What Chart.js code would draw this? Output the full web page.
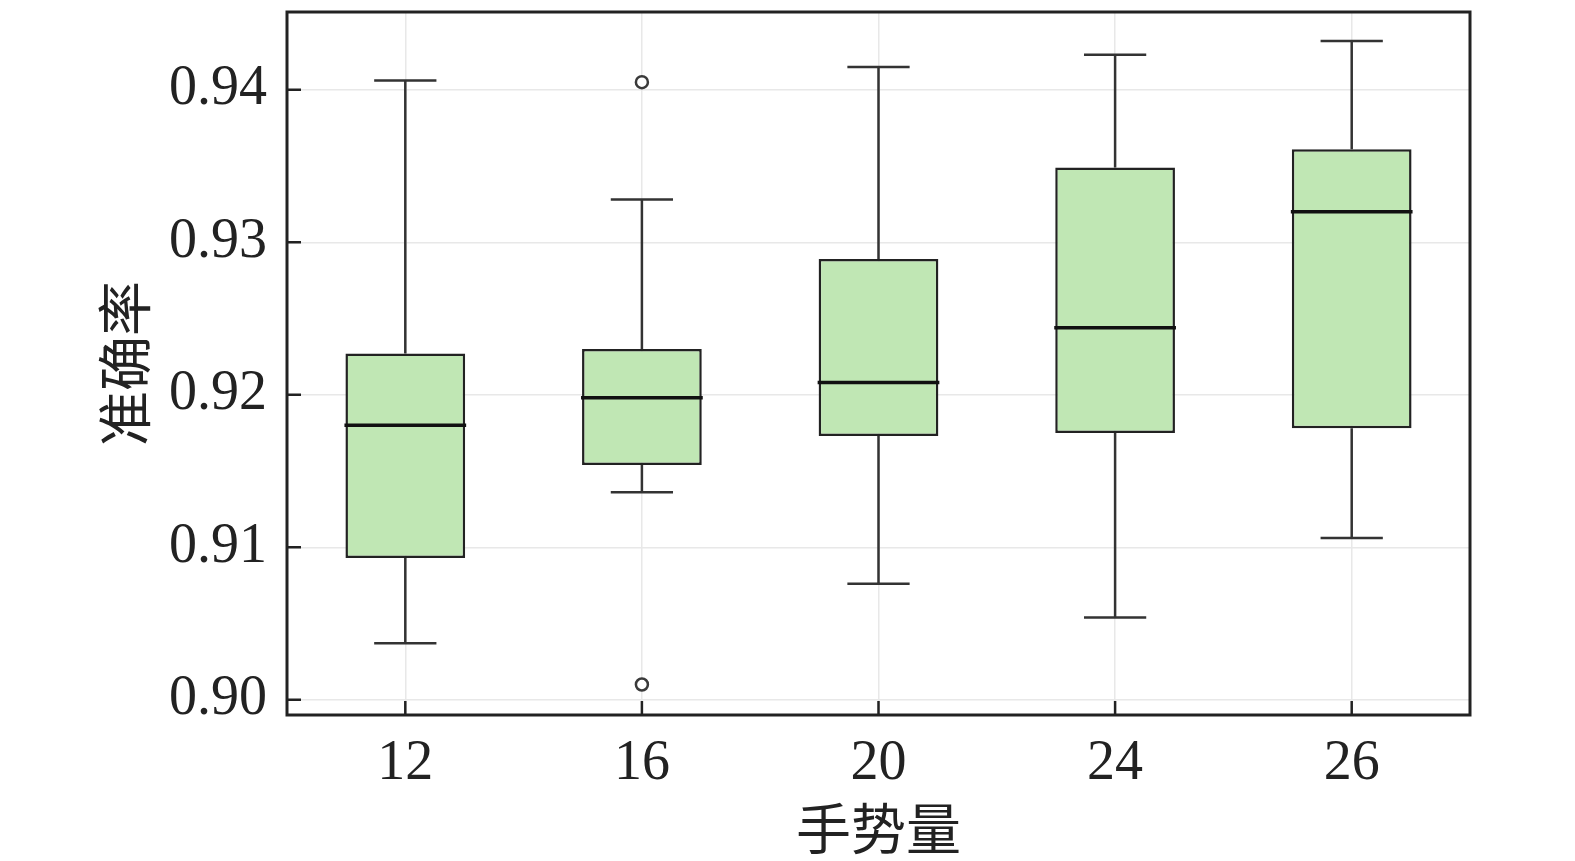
<!DOCTYPE html>
<html>
<head>
<meta charset="utf-8">
<script src="https://cdn.jsdelivr.net/npm/chart.js@4.4.1/dist/chart.umd.min.js"></script>
<style>
  html, body { margin: 0; padding: 0; background: #fff; }
  #wrap { width: 1575px; height: 861px; }
</style>
</head>
<body>
<div id="wrap"><canvas id="chart"></canvas></div>
<script>
const categories = ["12", "16", "20", "24", "26"];
const whiskerLow = [0.9037, 0.9136, 0.9076, 0.9054, 0.9106];
const q1 = [0.9093, 0.9154, 0.9173, 0.9175, 0.9178];
const median = [0.9180, 0.9198, 0.9208, 0.9244, 0.9320];
const q3 = [0.9227, 0.9230, 0.9289, 0.9349, 0.9361];
const whiskerHigh = [0.9406, 0.9328, 0.9415, 0.9423, 0.9432];
const outlierCats = ["16", "16"];
const outlierValues = [0.9405, 0.9010];
const yTicks = [0.90, 0.91, 0.92, 0.93, 0.94];

const serif = "'Liberation Serif', 'Times New Roman', serif";
const cjk = "'Noto Sans CJK SC', 'Liberation Serif', serif";
const ink = "#222";

// whiskers, medians, inner ticks and the frame
const boxPlotPlugin = {
  id: "boxPlot",
  beforeDatasetsDraw(chart) {
    const ctx = chart.ctx;
    const y = chart.scales.y;
    const bars = chart.getDatasetMeta(0).data;
    ctx.save();
    ctx.strokeStyle = "#333";
    ctx.lineWidth = 2.5;
    bars.forEach((bar, i) => {
      const cap = bar.width * 0.26;
      const yHi = y.getPixelForValue(whiskerHigh[i]);
      const yLo = y.getPixelForValue(whiskerLow[i]);
      ctx.beginPath();
      ctx.moveTo(bar.x, y.getPixelForValue(q3[i]));
      ctx.lineTo(bar.x, yHi);
      ctx.moveTo(bar.x - cap, yHi);
      ctx.lineTo(bar.x + cap, yHi);
      ctx.moveTo(bar.x, y.getPixelForValue(q1[i]));
      ctx.lineTo(bar.x, yLo);
      ctx.moveTo(bar.x - cap, yLo);
      ctx.lineTo(bar.x + cap, yLo);
      ctx.stroke();
    });
    ctx.restore();
  },
  afterDatasetsDraw(chart) {
    const ctx = chart.ctx;
    const y = chart.scales.y;
    const bars = chart.getDatasetMeta(0).data;
    ctx.save();
    ctx.strokeStyle = "#111";
    ctx.lineWidth = 3.5;
    bars.forEach((bar, i) => {
      const ym = y.getPixelForValue(median[i]);
      ctx.beginPath();
      ctx.moveTo(bar.x - bar.width / 2 - 1, ym);
      ctx.lineTo(bar.x + bar.width / 2 + 1, ym);
      ctx.stroke();
    });
    ctx.restore();
  },
  afterDraw(chart) {
    const ctx = chart.ctx;
    const a = chart.chartArea;
    const x = chart.scales.x;
    const y = chart.scales.y;
    ctx.save();
    ctx.strokeStyle = ink;
    ctx.lineWidth = 2.5;
    ctx.beginPath();
    yTicks.forEach(v => {
      const py = y.getPixelForValue(v);
      ctx.moveTo(a.left, py);
      ctx.lineTo(a.left + 14, py);
    });
    categories.forEach((c, i) => {
      const px = x.getPixelForValue(i);
      ctx.moveTo(px, a.bottom);
      ctx.lineTo(px, a.bottom - 14);
    });
    ctx.stroke();
    ctx.lineWidth = 3;
    ctx.strokeRect(a.left, a.top, a.right - a.left, a.bottom - a.top);
    ctx.restore();
  }
};

new Chart(document.getElementById("chart"), {
  type: "bar",
  data: {
    labels: categories,
    datasets: [
      {
        label: "box",
        data: categories.map((c, i) => [q1[i], q3[i]]),
        backgroundColor: "#c0e7b4",
        borderColor: ink,
        borderWidth: 2.5,
        borderSkipped: false,
        barPercentage: 0.506,
        categoryPercentage: 1,
        order: 2
      },
      {
        type: "line",
        label: "outliers",
        data: outlierCats.map((c, i) => ({ x: c, y: outlierValues[i] })),
        showLine: false,
        pointStyle: "circle",
        pointRadius: 6,
        pointBorderWidth: 2.5,
        pointBorderColor: "#3a3a3a",
        pointBackgroundColor: "#fff",
        order: 1
      }
    ]
  },
  options: {
    responsive: true,
    maintainAspectRatio: false,
    devicePixelRatio: 1,
    animation: false,
    layout: { padding: { top: 12, right: 105, left: 0, bottom: 0 } },
    plugins: {
      legend: { display: false },
      tooltip: { enabled: false }
    },
    scales: {
      x: {
        offset: true,
        afterFit: s => { s.height = 146; s.paddingLeft = 0; s.paddingRight = 0; },
        grid: { offset: false, color: "#e8e8e8", lineWidth: 1.5, drawTicks: false },
        border: { display: false },
        ticks: { color: ink, padding: 16, font: { family: serif, size: 56 } },
        title: {
          display: true,
          text: "手势量",
          color: ink,
          font: { family: cjk, size: 55 },
          padding: { top: 0, bottom: 0 }
        }
      },
      y: {
        min: 0.899,
        max: 0.9451,
        afterFit: s => { s.width = 287; s.paddingTop = 0; s.paddingBottom = 0; },
        afterBuildTicks: s => { s.ticks = yTicks.map(v => ({ value: v })); },
        grid: { color: "#e8e8e8", lineWidth: 1.5, drawTicks: false },
        border: { display: false },
        ticks: {
          color: ink,
          padding: 20,
          font: { family: serif, size: 56 },
          callback: v => Number(v).toFixed(2)
        },
        title: {
          display: true,
          text: "准确率",
          color: ink,
          font: { family: cjk, size: 55 },
          padding: { top: 91, bottom: 0 }
        }
      }
    }
  },
  plugins: [boxPlotPlugin]
});
</script>
</body>
</html>
